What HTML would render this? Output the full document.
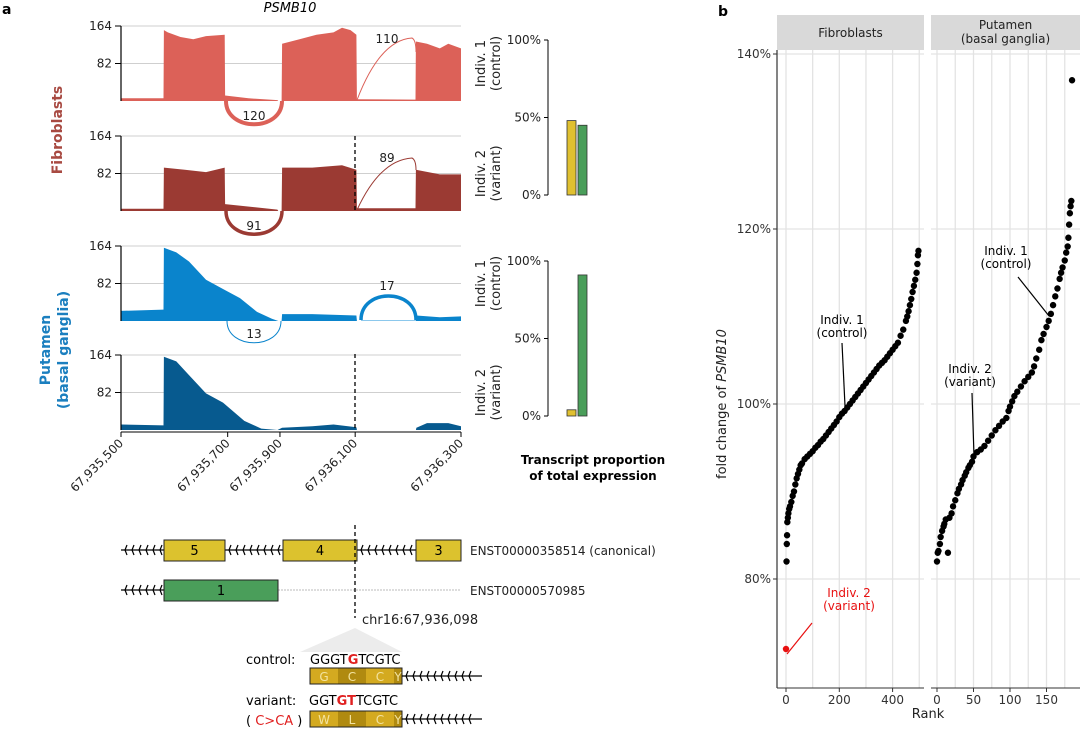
<!DOCTYPE html>
<html><head><meta charset="utf-8"><style>
body{margin:0;background:#fff;width:1080px;height:729px;overflow:hidden}
svg{font-family:"DejaVu Sans","Liberation Sans",sans-serif}
</style></head><body>
<svg id="s" width="1080" height="729" viewBox="0 0 1080 729">
<text x="2" y="14" font-weight="bold" font-size="14">a</text>
<text x="290" y="12" font-style="italic" font-size="13" text-anchor="middle">PSMB10</text>
<text x="718" y="16" font-weight="bold" font-size="14">b</text>
<g id="tracks"></g>
<g id="bars"></g>
<g id="genes"></g>
<g id="scatter"></g>
</svg>
<script>
const NS='http://www.w3.org/2000/svg';
const S=document.getElementById('s');
function mk(tag,at,parent,txt){const e=document.createElementNS(NS,tag);for(const k in at)e.setAttribute(k,at[k]);if(txt!==undefined)e.textContent=txt;(parent||S).appendChild(e);return e;}

// ---- coverage data (position 0..800 bp offset, read depth) ----
const cov1=[[0,6],[100,6],[101,155],[110,150],[140,140],[170,135],[200,142],[244,145],[245,12],[300,6],[368,2],[370,0],[378,0],[379,125],[420,135],[460,145],[500,150],[520,160],[540,155],[554,145],[555,4],[693,3],[694,130],[720,125],[750,115],[770,125],[800,115]];
const cov2=[[0,5],[100,5],[101,95],[150,90],[200,85],[244,95],[245,15],[368,3],[370,0],[378,0],[379,95],[450,95],[520,100],[554,90],[555,6],[693,6],[694,90],[750,80],[800,80]];
const cov3=[[0,22],[100,25],[101,160],[130,150],[160,130],[200,90],[240,70],[280,50],[320,20],[355,5],[370,0],[378,0],[379,15],[450,15],[554,12],[555,0],[694,0],[695,12],[750,8],[800,10]];
const cov4=[[0,12],[100,10],[101,160],[130,150],[160,120],[200,80],[240,60],[290,20],[330,3],[368,0],[379,5],[450,8],[500,12],[554,6],[555,0],[694,0],[695,5],[720,15],[770,15],[800,8]];
const yTicks=[82,164];
const xTickLabels=['67,935,500','67,935,700','67,935,900','67,936,100','67,936,300'];
const xTickPos=[0,251,374,551,800];
// bars
const barCats=['canonical','alternative'];
const barFib=[0.48,0.45];
const barPut=[0.04,0.91];
const barTicks=['0%','50%','100%'];
// scatter
const fibRank=[0,2,3,4,5,7,9,12,15,20,25,30,35,40,45,50,55,60,70,80,90,100,110,120,130,140,150,160,170,180,190,200,210,220,230,240,250,260,270,280,290,300,310,320,330,340,350,360,370,380,390,400,410,420,430,440,450,455,460,465,470,475,480,485,490,493,495,497];
const fibVal=[72,82,84,85,86.5,87,87.5,88,88.3,88.8,89.5,90,90.8,91.5,92,92.5,93,93.2,93.7,94,94.3,94.6,95,95.3,95.7,96,96.4,96.8,97.2,97.6,98,98.5,98.9,99.2,99.6,100,100.4,100.8,101.2,101.6,102,102.4,102.8,103.2,103.6,104,104.4,104.7,105,105.4,105.8,106.2,106.6,107,107.8,108.5,109.5,110,110.6,111.3,112,112.8,113.5,114.2,115,116,117,117.5];
const putRank=[0,1,2,4,5,7,9,10,12,15,17,20,22,25,28,30,33,35,38,40,43,45,48,50,55,60,65,70,75,80,85,90,95,98,100,103,106,110,115,120,125,130,133,136,140,143,146,150,153,156,159,162,165,168,170,172,175,177,179,180,181,182,183,184,185];
const putVal=[82,83,83.2,84,84.8,85.5,86,86.3,86.8,83,87,87.5,88.3,89,89.8,90.3,90.8,91.3,91.8,92.2,92.7,93,93.4,94,94.5,94.8,95.2,95.8,96.4,97,97.5,98,98.4,99.2,99.7,100.3,100.9,101.4,102,102.6,103.1,103.6,104.3,105.2,106.2,107.3,108,108.8,109.5,110.3,111.3,112.3,113.2,114.3,115,115.6,116.4,117.3,118,119,120.5,121.8,122.6,123.2,137];

// ---- tracks ----
const T=document.getElementById('tracks');
const px=p=>121+p*0.425;
const tracks=[{d:cov1,b:101,c:'#dc6158',n:'track-fib-indiv1'},{d:cov2,b:211,c:'#9b3a33',n:'track-fib-indiv2'},{d:cov3,b:321,c:'#0a84cc',n:'track-put-indiv1'},{d:cov4,b:430,c:'#075a8f',n:'track-put-indiv2'}];
const rlab=[['Indiv. 1','(control)'],['Indiv. 2','(variant)'],['Indiv. 1','(control)'],['Indiv. 2','(variant)']];
tracks.forEach((t,i)=>{
  const g=mk('g',{},T);
  const sy=v=>t.b-v*(75/164);
  yTicks.forEach(v=>{mk('line',{x1:121,x2:461,y1:sy(v),y2:sy(v),stroke:'#cfcfcf','stroke-width':1},g);
    mk('line',{x1:115,x2:121,y1:sy(v),y2:sy(v),stroke:'#000'},g);
    const tx=mk('text',{x:112,y:sy(v)+4,'font-size':12,'text-anchor':'end',fill:'#222'},g,String(v));
    });
  let d='M'+px(0)+','+t.b;t.d.forEach(p=>{d+=' L'+px(p[0]).toFixed(1)+','+sy(p[1]).toFixed(1);});d+=' L'+px(800)+','+t.b+'Z';
  const a=mk('path',{d:d,fill:t.c},g);
  mk('line',{x1:121,x2:121,y1:sy(164),y2:t.b,stroke:'#000','stroke-width':1.2},g);
  const rl=mk('text',{transform:`translate(488,${sy(82)}) rotate(-90)`,'font-size':13,'text-anchor':'middle',fill:'#222'},g);
  
  mk('tspan',{x:0,dy:-3},rl,rlab[i][0]);mk('tspan',{x:0,dy:15},rl,rlab[i][1]);
});
// arcs
function arc(d,c,w,lx,ly,lab,name){const p=mk('path',{d:d,fill:'none',stroke:c,'stroke-width':w},T);
  const t=mk('text',{x:lx,y:ly,'font-size':12,'text-anchor':'middle',fill:'#222'},T,lab);}
arc('M226,101 C226,132 282,132 282,101','#dc6158',4,254,120,'120','junction-arc-fib1-a');
arc('M357,100 Q380,40 412,38 Q416,40 416,52','#dc6158',1,387,43,'110','junction-arc-fib1-b');
arc('M226,211 C226,242 282,242 282,211','#9b3a33',3.5,254,230,'91','junction-arc-fib2-a');
arc('M357,210 Q380,160 412,158 Q416,160 416,170','#9b3a33',1,387,162,'89','junction-arc-fib2-b');
arc('M361,320 C361,288 416,288 416,320','#0a84cc',3.5,387,290,'17','junction-arc-put1-b');
arc('M227,321 C227,350 281,350 281,321','#0a84cc',1,254,338,'13','junction-arc-put1-a');
mk('line',{x1:361,x2:416,y1:320.5,y2:320.5,stroke:'#8cc8ec','stroke-width':1},T);
mk('line',{x1:355,x2:355,y1:136,y2:211,stroke:'#000','stroke-dasharray':'4,3','stroke-width':1.3},T);
mk('line',{x1:355,x2:355,y1:354,y2:430,stroke:'#000','stroke-dasharray':'4,3','stroke-width':1.3},T);
// x axis
mk('line',{x1:121,x2:461,y1:432,y2:432,stroke:'#000'},T);
xTickLabels.forEach((l,i)=>{const x=px(xTickPos[i]);mk('line',{x1:x,x2:x,y1:432,y2:437,stroke:'#000'},T);
  const t=mk('text',{transform:`translate(${x+3},${444}) rotate(-45)`,'font-size':12,'text-anchor':'end',fill:'#222'},T,l);
  });
// tissue labels
let tl=mk('text',{transform:'translate(62,130) rotate(-90)','font-size':14,'font-weight':'bold','text-anchor':'middle',fill:'#a84a42'},T,'Fibroblasts');

tl=mk('text',{transform:'translate(50,350) rotate(-90)','font-size':14,'font-weight':'bold','text-anchor':'middle',fill:'#1b7fbf'},T);

mk('tspan',{x:0,dy:0},tl,'Putamen');mk('tspan',{x:0,dy:18},tl,'(basal ganglia)');

// ---- bars ----
const B=document.getElementById('bars');
const barCols=['#e0c030','#4a9e5a'];
[[barFib,195],[barPut,416]].forEach(([vals,base],k)=>{
  const sy=v=>base-v*155;
  const g=mk('g',{},B);
  mk('line',{x1:548,x2:548,y1:sy(1),y2:base,stroke:'#000'},g);
  barTicks.forEach((l,i)=>{const y=sy(i/2);mk('line',{x1:544,x2:548,y1:y,y2:y,stroke:'#000'},g);
    const t=mk('text',{x:541,y:y+4,'font-size':12,'text-anchor':'end',fill:'#222'},g,l);});
  vals.forEach((v,i)=>{const r=mk('rect',{x:567+i*11,y:sy(v),width:9,height:v*155,fill:barCols[i],stroke:'#333','stroke-width':0.8},g);
    });
});
let bt=mk('text',{x:593,y:464,'font-size':12,'font-weight':'bold','text-anchor':'middle'},B);

mk('tspan',{x:593,dy:0},bt,'Transcript proportion');mk('tspan',{x:593,dy:16},bt,'of total expression');

// ---- gene models ----
const G=document.getElementById('genes');
function chev(x1,x2,y){for(let x=x1+4;x<x2-2;x+=7){mk('path',{d:`M${x+2},${y-5} L${x},${y} L${x+2},${y+5}`,fill:'none',stroke:'#000','stroke-width':1.2},G);}}
mk('line',{x1:121,x2:461,y1:550,y2:550,stroke:'#000','stroke-width':1.3},G);
chev(121,164,550);chev(225,283,550);chev(357,416,550);
[[164,225,'5'],[283,357,'4'],[416,461,'3']].forEach(e=>{const r=mk('rect',{x:e[0],y:540,width:e[1]-e[0],height:21,fill:'#dcc22e',stroke:'#222'},G);
  
  mk('text',{x:(e[0]+e[1])/2,y:555,'font-size':13,'text-anchor':'middle'},G,e[2]);});
mk('text',{x:470,y:555,'font-size':12,fill:'#222'},G,'ENST00000358514 (canonical)');
mk('line',{x1:121,x2:164,y1:590,y2:590,stroke:'#000','stroke-width':1.3},G);chev(121,164,590);
mk('line',{x1:278,x2:461,y1:590,y2:590,stroke:'#bbb','stroke-width':1,'stroke-dasharray':'2,1'},G);
let r1=mk('rect',{x:164,y:580,width:114,height:21,fill:'#4a9e5a',stroke:'#222'},G);
mk('text',{x:221,y:595,'font-size':13,'text-anchor':'middle'},G,'1');
mk('text',{x:470,y:595,'font-size':12,fill:'#222'},G,'ENST00000570985');
mk('line',{x1:355,x2:355,y1:525,y2:618,stroke:'#000','stroke-dasharray':'4,3','stroke-width':1.3},G);
mk('text',{x:362,y:624,'font-size':13,fill:'#222'},G,'chr16:67,936,098');
mk('path',{d:'M355,628 L300,652 L402,652Z',fill:'#ececec'},G);
mk('text',{x:246,y:664,'font-size':13},G,'control:');
let sq=mk('text',{x:310,y:664,'font-size':13},G);mk('tspan',{},sq,'GGGT');mk('tspan',{fill:'#e02020','font-weight':'bold'},sq,'G');mk('tspan',{},sq,'TCGTC');
mk('text',{x:246,y:705,'font-size':13},G,'variant:');
sq=mk('text',{x:309,y:705,'font-size':13},G);mk('tspan',{},sq,'GGT');mk('tspan',{fill:'#e02020','font-weight':'bold'},sq,'GT');mk('tspan',{},sq,'TCGTC');
sq=mk('text',{x:246,y:725,'font-size':13},G);mk('tspan',{},sq,'( ');mk('tspan',{fill:'#e02020'},sq,'C>CA');mk('tspan',{},sq,' )');
[[668,['G','C','C','Y']],[711,['W','L','C','Y']]].forEach(([y,aa])=>{
  const w=[28,28,28,8];let x=310;
  aa.forEach((a,i)=>{mk('rect',{x:x,y:y,width:w[i],height:16,fill:i%2?'#b08a10':'#d4aa20'},G);mk('text',{x:x+w[i]/2,y:y+13,'font-size':12,'text-anchor':'middle',fill:'#f3e3a0'},G,a);x+=w[i];});
  mk('rect',{x:310,y:y,width:92,height:16,fill:'none',stroke:'#222'},G);
  mk('line',{x1:402,x2:482,y1:y+8,y2:y+8,stroke:'#000','stroke-width':1.3},G);chev(402,476,y+8);
});

// ---- scatter ----
const SC=document.getElementById('scatter');
const syb=v=>404-(v-100)*8.75;
const yT=[80,100,120,140];
const panels=[{x0:777,x1:924,fx:r=>786+r*0.2665,ticks:[0,200,400],minor:[100,300,500],title:['Fibroblasts'],R:fibRank,V:fibVal,n:'fibroblasts'},
              {x0:931,x1:1080,fx:r=>937+r*0.73,ticks:[0,50,100,150],minor:[25,75,125,175],title:['Putamen','(basal ganglia)'],R:putRank,V:putVal,n:'putamen'}];
panels.forEach(p=>{
  const g=mk('g',{},SC);
  mk('rect',{x:p.x0,y:15,width:p.x1-p.x0,height:35,fill:'#d9d9d9'},g);
  p.title.forEach((t,i)=>mk('text',{x:(p.x0+p.x1)/2,y:(p.title.length>1?29:37)+i*14,'font-size':12,'text-anchor':'middle',fill:'#222'},g,t));
  yT.forEach(v=>mk('line',{x1:p.x0,x2:p.x1,y1:syb(v),y2:syb(v),stroke:'#e3e3e3','stroke-width':1.3},g));
  p.ticks.concat(p.minor).forEach(r=>{if(p.fx(r)<p.x1)mk('line',{x1:p.fx(r),x2:p.fx(r),y1:50,y2:688,stroke:'#e3e3e3','stroke-width':1.3},g);});
  p.ticks.forEach(r=>{mk('line',{x1:p.fx(r),x2:p.fx(r),y1:688,y2:692,stroke:'#333'},g);
    const t=mk('text',{x:p.fx(r),y:704,'font-size':12,'text-anchor':'middle',fill:'#333'},g,String(r));});
  mk('line',{x1:p.x0,x2:p.x1,y1:688,y2:688,stroke:'#333'},g);
  p.R.forEach((r,i)=>{const red=(p.n==='fibroblasts'&&i===0);
    const c=mk('circle',{cx:p.fx(r),cy:syb(p.V[i]),r:3.2,fill:red?'#e81010':'#000'},g);
    });
});
mk('line',{x1:777,x2:777,y1:50,y2:688,stroke:'#333','stroke-width':1.2},SC);
yT.forEach(v=>{mk('line',{x1:773,x2:777,y1:syb(v),y2:syb(v),stroke:'#333'},SC);
  const t=mk('text',{x:771,y:syb(v)+4,'font-size':12,'text-anchor':'end',fill:'#333'},SC,v+'%');});
let yt=mk('text',{transform:'translate(726,404) rotate(-90)','font-size':13,'text-anchor':'middle',fill:'#222'},SC);

mk('tspan',{},yt,'fold change of ');mk('tspan',{'font-style':'italic'},yt,'PSMB10');
let xt=mk('text',{x:928,y:718,'font-size':13,'text-anchor':'middle',fill:'#222'},SC,'Rank');
function ann(x,y,l1,l2,lx1,ly1,lx2,ly2,c){const t=mk('text',{x:x,y:y,'font-size':12,'text-anchor':'middle',fill:c},SC);
  
  mk('tspan',{x:x,dy:0},t,l1);mk('tspan',{x:x,dy:13},t,l2);mk('line',{x1:lx1,y1:ly1,x2:lx2,y2:ly2,stroke:c,'stroke-width':1.2},SC);}
ann(842,324,'Indiv. 1','(control)',842,343,845,406,'#000');
ann(849,597,'Indiv. 2','(variant)',812,623,787,654,'#e81010');
ann(1006,255,'Indiv. 1','(control)',1018,277,1049,316,'#000');
ann(970,373,'Indiv. 2','(variant)',972,393,974,456,'#000');
</script>
</body></html>
